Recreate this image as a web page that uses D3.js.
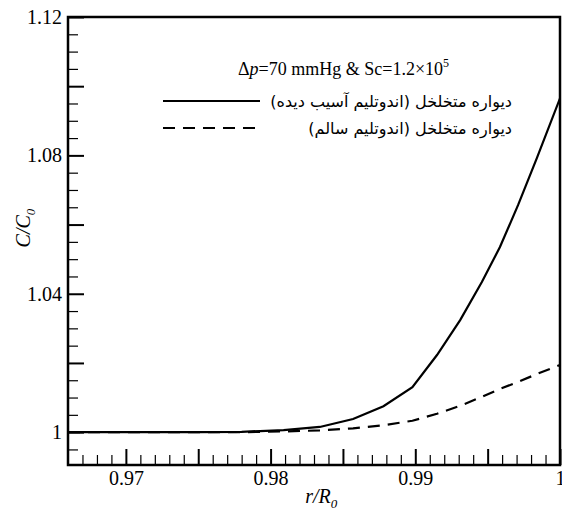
<!DOCTYPE html>
<html>
<head>
<meta charset="utf-8">
<script src="https://cdn.jsdelivr.net/npm/d3@7"></script>
<style>
  html, body { margin: 0; padding: 0; background: #fff; }
  svg { display: block; }
  .tick text { font-family: "Liberation Serif", "Times New Roman", serif; font-size: 20px; fill: #000; }
</style>
</head>
<body>
<script>
// ---- Data ----
const rValues = [0.966, 0.970, 0.975, 0.978, 0.9809, 0.9834, 0.9857, 0.9878, 0.9898, 0.9915, 0.9931, 0.9946, 0.99585, 0.9971, 0.9984, 1.0];
const cDamaged = [1.0, 1.0, 1.0, 1.0001, 1.0006, 1.0015, 1.0038, 1.0075, 1.0130, 1.0223, 1.0324, 1.0434, 1.0535, 1.0656, 1.0792, 1.0965];
const cHealthy = [1.0, 1.0, 1.0, 1.0, 1.0002, 1.0005, 1.0011, 1.0020, 1.0033, 1.0053, 1.0076, 1.0102, 1.0125, 1.0145, 1.0168, 1.0194];
const seriesNames = ["دیواره متخلخل (اندوتلیم آسیب دیده)", "دیواره متخلخل (اندوتلیم سالم)"];
const xTickLabels = ["0.97", "0.98", "0.99", "1"];
const yTickLabels = ["1", "1.04", "1.08", "1.12"];
const xMajorTicks = [0.97, 0.975, 0.98, 0.985, 0.99, 0.995, 1.0];
const yMajorTicks = [1.0, 1.02, 1.04, 1.06, 1.08, 1.10, 1.12];
const xDomain = [0.966, 1.0];
const yDomain = [0.9905, 1.12];

// ---- Layout ----
const W = 562, H = 511;
const m = { left: 68, right: 2, top: 17, bottom: 46 };
const iw = W - m.left - m.right, ih = H - m.top - m.bottom;

const svg = d3.select("body").append("svg").attr("width", W).attr("height", H);
const g = svg.append("g").attr("transform", `translate(${m.left},${m.top})`);

const x = d3.scaleLinear().domain(xDomain).range([0, iw]);
const y = d3.scaleLinear().domain(yDomain).range([ih, 0]);

const fmtX = v => { const s = xTickLabels.find(l => Math.abs(+l - v) < 1e-9); return s || ""; };
const fmtY = v => { const s = yTickLabels.find(l => Math.abs(+l - v) < 1e-9); return s || ""; };

// minor ticks
const xMinor = d3.range(0, 35).map(i => +(xDomain[0] + i * 0.001).toFixed(4)).filter(v => v > xDomain[0] && v < xDomain[1] && !xMajorTicks.some(t => Math.abs(t - v) < 1e-9));
const yMinor = d3.range(0, 30).map(i => +(0.995 + i * 0.005).toFixed(4)).filter(v => v > yDomain[0] && v < yDomain[1] && !yMajorTicks.some(t => Math.abs(t - v) < 1e-9));

function styleAxis(sel, w) {
  sel.select(".domain").remove();
  sel.attr("font-family", null).attr("font-size", null);
  sel.selectAll(".tick line").attr("stroke", "#000").attr("stroke-width", w);
}

g.append("g").attr("transform", `translate(0,${ih})`)
  .call(d3.axisBottom(x).tickValues(xMinor).tickSize(-10).tickFormat(""))
  .call(s => styleAxis(s, 1.2));
g.append("g").attr("transform", `translate(0,${ih})`)
  .call(d3.axisBottom(x).tickValues(xMajorTicks).tickSize(-16).tickPadding(6).tickFormat(fmtX))
  .call(s => styleAxis(s, 2));
g.append("g")
  .call(d3.axisLeft(y).tickValues(yMinor).tickSize(-10).tickFormat(""))
  .call(s => styleAxis(s, 1.2));
g.append("g")
  .call(d3.axisLeft(y).tickValues(yMajorTicks).tickSize(-16).tickPadding(6).tickFormat(fmtY))
  .call(s => styleAxis(s, 2));
g.selectAll(".tick text").attr("fill", "#000");

// clip
svg.append("defs").append("clipPath").attr("id", "clip")
  .append("rect").attr("width", iw).attr("height", ih);

const line = d3.line().x(d => x(d[0])).y(d => y(d[1]));
const plot = g.append("g").attr("clip-path", "url(#clip)");
plot.append("path").datum(rValues.map((r, i) => [r, cDamaged[i]]))
  .attr("d", line).attr("fill", "none").attr("stroke", "#000").attr("stroke-width", 2.2);
plot.append("path").datum(rValues.map((r, i) => [r, cHealthy[i]]))
  .attr("d", line).attr("fill", "none").attr("stroke", "#000").attr("stroke-width", 2.2)
  .attr("stroke-dasharray", "12,8");

// frame
g.append("rect").attr("width", iw).attr("height", ih)
  .attr("fill", "none").attr("stroke", "#000").attr("stroke-width", 2.5);

// axis titles
const serif = "'Liberation Serif', 'Times New Roman', serif";
const xt = svg.append("text").attr("x", m.left + x(0.9835)).attr("y", 503)
  .attr("text-anchor", "middle").attr("font-family", serif).attr("font-size", 20)
  .attr("font-style", "italic");
xt.append("tspan").text("r/R");
xt.append("tspan").text("0").attr("font-size", 13).attr("dy", 5);

const yt = svg.append("text").attr("transform", `translate(30,228) rotate(-90)`)
  .attr("text-anchor", "middle").attr("font-family", serif).attr("font-size", 20)
  .attr("font-style", "italic");
yt.append("tspan").text("C/C");
yt.append("tspan").text("0").attr("font-size", 13).attr("dy", 5);

// legend title
const lt = svg.append("text").attr("x", 238).attr("y", 75)
  .attr("font-family", serif).attr("font-size", 18);
lt.append("tspan").text("Δ");
lt.append("tspan").text("p").attr("font-style", "italic");
lt.append("tspan").text("=70 mmHg & Sc=1.2×10");
lt.append("tspan").text("5").attr("font-size", 12).attr("dy", -8);

// legend entries
const legendRows = [
  { name: seriesNames[0], ly: 101, ty: 107, dash: null },
  { name: seriesNames[1], ly: 128, ty: 134, dash: "12,8" }
];
legendRows.forEach(row => {
  svg.append("line").attr("x1", 163).attr("x2", 260).attr("y1", row.ly).attr("y2", row.ly)
    .attr("stroke", "#000").attr("stroke-width", 2)
    .attr("stroke-dasharray", row.dash);
  svg.append("text").attr("x", 512).attr("y", row.ty)
    .attr("text-anchor", "start").attr("direction", "rtl")
    .style("direction", "rtl").style("unicode-bidi", "embed")
    .attr("font-family", "'DejaVu Sans', sans-serif").attr("font-size", 16)
    .text(row.name);
});
</script>
</body>
</html>
